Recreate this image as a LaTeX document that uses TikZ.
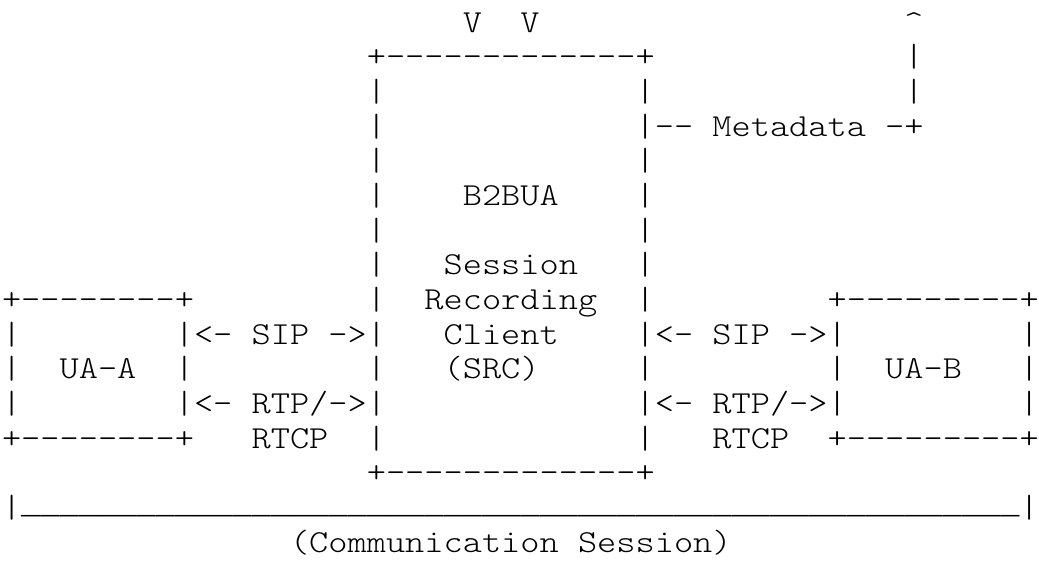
\documentclass[tikz,border=0pt]{standalone}
\usepackage{fontspec}
\setmonofont{lmmonolt10-regular.otf}[FakeStretch=1.1411]
\newfontfamily\unders{Liberation Mono}[FakeStretch=0.9983]
\tikzset{txt/.style={anchor=base west, inner sep=0pt, outer sep=0pt, text=black,
  font=\ttfamily\fontsize{32.05}{34.67}\selectfont}}
% \asc{name}{row}{column}{text}
\newcommand\asc[4]{\node[txt] (#1) at ({2.0+#3*19.2},{-32-(#2-1)*34.667}) {#4};}
\newcommand\uscfour{\_\_\_\_}
\begin{document}
\begin{tikzpicture}[x=1pt,y=1pt]
\useasboundingbox (0,0) rectangle (1039,-563);
\fill[white] (0,0) rectangle (1039,-563);
% row 1
\asc{va}{1}{24}{V}
\asc{vb}{1}{27}{V}
\asc{up}{1}{47}{\textasciicircum}
% row 2
\asc{srctop}{2}{19}{+-------------+}
\asc{ra2}{2}{47}{|}
% row 3
\asc{l3}{3}{19}{|}
\asc{r3}{3}{33}{|}
\asc{ra3}{3}{47}{|}
% row 4
\asc{l4}{4}{19}{|}
\asc{meta}{4}{33}{|-- Metadata -+}
% row 5
\asc{l5}{5}{19}{|}
\asc{r5}{5}{33}{|}
% row 6
\asc{l6}{6}{19}{|}
\asc{b2bua}{6}{24}{B2BUA}
\asc{r6}{6}{33}{|}
% row 7
\asc{l7}{7}{19}{|}
\asc{r7}{7}{33}{|}
% row 8
\asc{l8}{8}{19}{|}
\asc{session}{8}{23}{Session}
\asc{r8}{8}{33}{|}
% row 9
\asc{uaatop}{9}{0}{+--------+}
\asc{l9}{9}{19}{|}
\asc{recording}{9}{22}{Recording}
\asc{r9}{9}{33}{|}
\asc{uabtop}{9}{43}{+---------+}
% row 10
\asc{a10}{10}{0}{|}
\asc{sipa}{10}{9}{|<- SIP ->|}
\asc{client}{10}{23}{Client}
\asc{sipb}{10}{33}{|<- SIP ->|}
\asc{b10}{10}{53}{|}
% row 11
\asc{a11}{11}{0}{|}
\asc{uaa}{11}{3}{UA-A}
\asc{a11r}{11}{9}{|}
\asc{l11}{11}{19}{|}
\asc{src}{11}{23}{(SRC)}
\asc{r11}{11}{33}{|}
\asc{b11}{11}{43}{|}
\asc{uab}{11}{46}{UA-B}
\asc{b11r}{11}{53}{|}
% row 12
\asc{a12}{12}{0}{|}
\asc{rtpa}{12}{9}{|<- RTP/->|}
\asc{rtpb}{12}{33}{|<- RTP/->|}
\asc{b12}{12}{53}{|}
% row 13
\asc{uaabot}{13}{0}{+--------+}
\asc{rtcpa}{13}{13}{RTCP}
\asc{l13}{13}{19}{|}
\asc{r13}{13}{33}{|}
\asc{rtcpb}{13}{37}{RTCP}
\asc{uabbot}{13}{43}{+---------+}
% row 14
\asc{srcbot}{14}{19}{+-------------+}
% row 15
\asc{csl}{15}{0}{|}
\asc{csline}{15}{1}{\unders\raisebox{4pt}{\uscfour\uscfour\uscfour\uscfour\uscfour\uscfour\uscfour\uscfour\uscfour\uscfour\uscfour\uscfour\uscfour}}
\asc{csr}{15}{53}{|}
% row 16
\asc{cs}{16}{15}{(Communication Session)}
\end{tikzpicture}
\end{document}
